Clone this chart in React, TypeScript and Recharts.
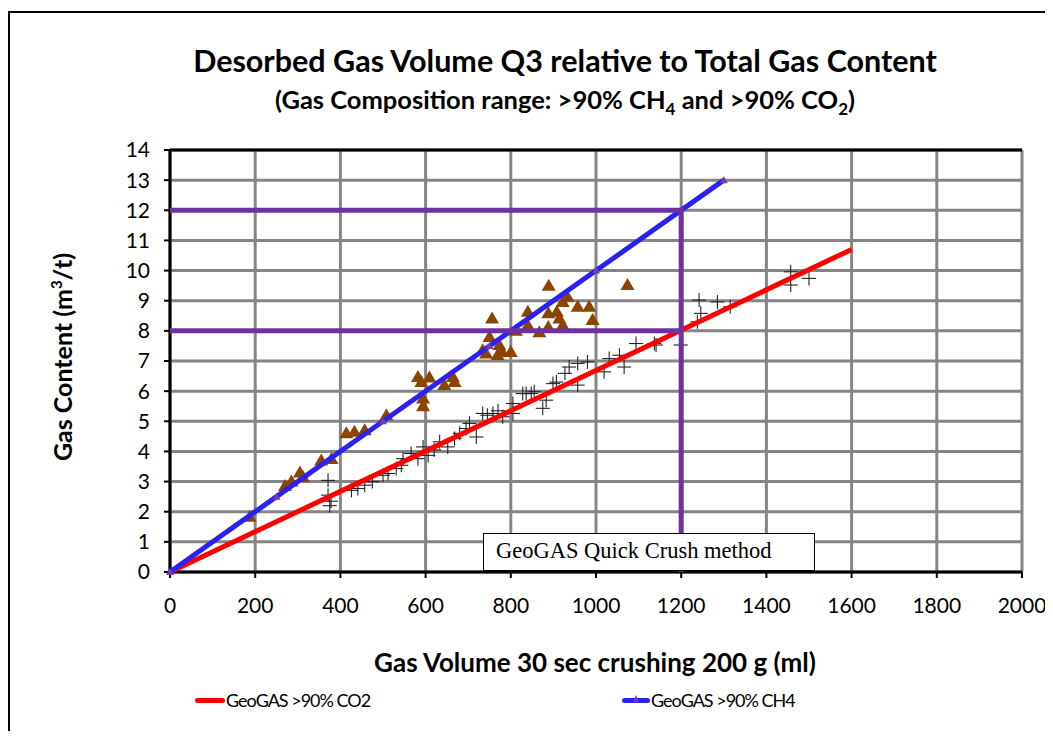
import { ScatterChart, Scatter, XAxis, YAxis, CartesianGrid, ReferenceLine } from "recharts";

// measured samples, CO2-rich (crosses) and CH4-rich (triangles)
const co2Samples = [
  { x: 371, y: 3.04 }, { x: 375, y: 2.2 }, { x: 378, y: 2.35 }, { x: 371, y: 2.55 }, { x: 426, y: 2.71 },
  { x: 441, y: 2.77 }, { x: 457, y: 2.88 }, { x: 475, y: 3.0 }, { x: 500, y: 3.21 }, { x: 512, y: 3.27 },
  { x: 531, y: 3.43 }, { x: 543, y: 3.54 }, { x: 547, y: 3.76 }, { x: 566, y: 3.93 }, { x: 582, y: 3.76 },
  { x: 594, y: 4.15 }, { x: 606, y: 3.87 }, { x: 620, y: 4.05 }, { x: 633, y: 4.32 }, { x: 652, y: 4.15 },
  { x: 668, y: 4.43 }, { x: 680, y: 4.6 }, { x: 695, y: 4.76 }, { x: 703, y: 4.93 }, { x: 719, y: 4.48 },
  { x: 734, y: 5.26 }, { x: 745, y: 5.2 }, { x: 758, y: 5.26 }, { x: 770, y: 5.35 }, { x: 781, y: 5.15 },
  { x: 805, y: 5.26 }, { x: 805, y: 5.59 }, { x: 828, y: 5.92 }, { x: 836, y: 5.92 }, { x: 848, y: 5.92 },
  { x: 855, y: 5.98 }, { x: 875, y: 5.43 }, { x: 883, y: 5.7 }, { x: 899, y: 6.25 }, { x: 907, y: 6.3 },
  { x: 927, y: 6.59 }, { x: 937, y: 6.8 }, { x: 957, y: 6.92 }, { x: 957, y: 6.2 }, { x: 980, y: 6.97 },
  { x: 1019, y: 6.64 }, { x: 1031, y: 7.08 }, { x: 1055, y: 7.19 }, { x: 1066, y: 6.8 }, { x: 1094, y: 7.58 },
  { x: 1137, y: 7.58 }, { x: 1141, y: 7.53 }, { x: 1199, y: 7.53 }, { x: 1238, y: 8.3 }, { x: 1246, y: 8.58 },
  { x: 1242, y: 9.02 }, { x: 1285, y: 8.96 }, { x: 1315, y: 8.8 }, { x: 1457, y: 9.52 }, { x: 1457, y: 9.96 },
  { x: 1500, y: 9.74 },
];

const ch4Samples = [
  { x: 187, y: 1.83 }, { x: 270, y: 2.85 }, { x: 285, y: 3.0 }, { x: 305, y: 3.3 }, { x: 312, y: 3.15 },
  { x: 355, y: 3.7 }, { x: 379, y: 3.75 }, { x: 414, y: 4.6 }, { x: 433, y: 4.65 }, { x: 457, y: 4.7 },
  { x: 508, y: 5.2 }, { x: 582, y: 6.47 }, { x: 590, y: 6.3 }, { x: 594, y: 5.5 }, { x: 594, y: 5.76 },
  { x: 609, y: 6.45 }, { x: 644, y: 6.2 }, { x: 664, y: 6.47 }, { x: 668, y: 6.3 }, { x: 734, y: 7.36 },
  { x: 742, y: 7.25 }, { x: 750, y: 7.8 }, { x: 756, y: 8.41 }, { x: 769, y: 7.2 }, { x: 773, y: 7.53 },
  { x: 780, y: 7.3 }, { x: 800, y: 7.3 }, { x: 812, y: 8.0 }, { x: 840, y: 8.63 }, { x: 840, y: 8.19 },
  { x: 867, y: 7.95 }, { x: 888, y: 8.13 }, { x: 888, y: 8.58 }, { x: 889, y: 9.5 }, { x: 908, y: 8.63 },
  { x: 914, y: 8.41 }, { x: 922, y: 8.96 }, { x: 922, y: 8.19 }, { x: 933, y: 9.13 }, { x: 957, y: 8.8 },
  { x: 984, y: 8.8 }, { x: 992, y: 8.36 }, { x: 1074, y: 9.52 },
];

// GeoGAS model lines
const co2Line = [{ x: 0, y: 0 }, { x: 1600, y: 10.7 }];
const ch4Line = [
  { x: 0, y: 0 }, { x: 250, y: 2.5 }, { x: 500, y: 5 }, { x: 750, y: 7.5 },
  { x: 1000, y: 10 }, { x: 1300, y: 13 },
];

// read-off guides
const guideUpper = [{ x: 0, y: 12 }, { x: 1200, y: 12 }, { x: 1200, y: 0 }];
const guideLower = [{ x: 0, y: 8 }, { x: 1200, y: 8 }];

const xTicks = [0, 200, 400, 600, 800, 1000, 1200, 1400, 1600, 1800, 2000];
const yTicks = [0, 1, 2, 3, 4, 5, 6, 7, 8, 9, 10, 11, 12, 13, 14];

const FONT = "Lato, 'Open Sans', sans-serif";
const PURPLE = "#7030a0";
const BLUE = "#2b22f2";
const RED = "#ff0000";
const BROWN = "#8b4500";

const Cross = (props: any) => {
  const { cx, cy } = props;
  return (
    <g stroke="#222" strokeWidth={1.1}>
      <line x1={cx - 7} y1={cy} x2={cx + 7} y2={cy} />
      <line x1={cx} y1={cy - 7} x2={cx} y2={cy + 7} />
    </g>
  );
};

const Triangle = (props: any) => {
  const { cx, cy } = props;
  return <polygon points={`${cx},${cy - 7} ${cx + 7},${cy + 5} ${cx - 7},${cy + 5}`} fill={BROWN} />;
};

const SmallMark = (props: any) => {
  const { cx, cy } = props;
  return <polygon points={`${cx},${cy - 4} ${cx + 4},${cy + 3} ${cx - 4},${cy + 3}`} fill="#7a3aa8" />;
};

const NoShape = () => <g />;

export default function App() {
  return (
    <div
      style={{
        position: "relative",
        marginTop: 3,
        width: 1045,
        height: 720,
        borderLeft: "2px solid #000",
        borderTop: "2px solid #000",
        boxSizing: "border-box",
        fontFamily: FONT,
        color: "#000",
      }}
    >
      <div style={{ position: "absolute", left: 555, top: 32, transform: "translateX(-50%)", whiteSpace: "nowrap", fontSize: 30.5, fontWeight: 700, lineHeight: 1 }}>
        Desorbed Gas Volume Q3 relative to Total Gas Content
      </div>
      <div style={{ position: "absolute", left: 555, top: 74, transform: "translateX(-50%)", whiteSpace: "nowrap", fontSize: 25.5, fontWeight: 700, lineHeight: 1 }}>
        (Gas Composition range: &gt;90% CH<sub style={{ fontSize: 17 }}>4</sub> and &gt;90% CO<sub style={{ fontSize: 17 }}>2</sub>)
      </div>

      <ScatterChart width={1043} height={640} margin={{ top: 137, right: 31, bottom: 41, left: 100 }} style={{ position: "absolute", left: 0, top: 0 }}>
        <CartesianGrid stroke="#858585" strokeWidth={3} horizontalValues={yTicks} verticalValues={xTicks} />
        <XAxis
          type="number"
          dataKey="x"
          domain={[0, 2000]}
          ticks={xTicks}
          height={40}
          interval={0}
          tick={{ fill: "#000", fontSize: 21, fontFamily: FONT }}
          tickMargin={20}
          tickSize={6}
          axisLine={{ stroke: "#000", strokeWidth: 3 }}
          tickLine={{ stroke: "#000", strokeWidth: 2 }}
        />
        <YAxis
          type="number"
          dataKey="y"
          domain={[0, 14]}
          ticks={yTicks}
          width={60}
          interval={0}
          tick={{ fill: "#000", fontSize: 21, fontFamily: FONT }}
          tickMargin={14}
          tickSize={6}
          axisLine={{ stroke: "#000", strokeWidth: 3 }}
          tickLine={{ stroke: "#000", strokeWidth: 2 }}
        />
        <ReferenceLine y={14} stroke="#000" strokeWidth={3} />
        <Scatter data={co2Samples} shape={Cross} isAnimationActive={false} />
        <Scatter data={ch4Samples} shape={Triangle} isAnimationActive={false} />
        <Scatter data={co2Line} line={{ stroke: RED, strokeWidth: 5 }} lineType="joint" shape={NoShape} isAnimationActive={false} />
        <Scatter data={ch4Line} line={{ stroke: BLUE, strokeWidth: 5 }} lineType="joint" shape={SmallMark} isAnimationActive={false} />
        <Scatter data={guideUpper} line={{ stroke: PURPLE, strokeWidth: 5 }} lineType="joint" shape={NoShape} isAnimationActive={false} />
        <Scatter data={guideLower} line={{ stroke: PURPLE, strokeWidth: 5 }} lineType="joint" shape={NoShape} isAnimationActive={false} />
      </ScatterChart>

      <div
        style={{
          position: "absolute",
          left: 473,
          top: 520,
          width: 332,
          height: 38,
          boxSizing: "border-box",
          border: "1px solid #000",
          background: "#fff",
          fontFamily: "'Liberation Serif', serif",
          fontSize: 22.5,
          lineHeight: "34px",
          paddingLeft: 12,
          whiteSpace: "nowrap",
        }}
      >
        GeoGAS Quick Crush method
      </div>

      <div style={{ position: "absolute", left: 52, top: 344, transform: "translate(-50%, -50%) rotate(-90deg)", whiteSpace: "nowrap", fontSize: 25, fontWeight: 700, lineHeight: 1 }}>
        Gas Content (m<sup style={{ fontSize: 15 }}>3</sup>/t)
      </div>
      <div style={{ position: "absolute", left: 585, top: 636, transform: "translateX(-50%)", whiteSpace: "nowrap", fontSize: 26, fontWeight: 700, lineHeight: 1 }}>
        Gas Volume 30 sec crushing 200 g (ml)
      </div>

      <div style={{ position: "absolute", left: 185, top: 678, display: "flex", alignItems: "center", fontSize: 18, letterSpacing: -1, lineHeight: 1 }}>
        <span style={{ width: 30, height: 5, borderRadius: 3, background: RED, marginRight: 1 }} />
        <span>GeoGAS &gt;90% CO2</span>
      </div>
      <div style={{ position: "absolute", left: 612, top: 678, display: "flex", alignItems: "center", fontSize: 18, letterSpacing: -1, lineHeight: 1 }}>
        <span style={{ position: "relative", width: 28, height: 5, borderRadius: 3, background: BLUE, marginRight: 1 }}>
          <span style={{ position: "absolute", left: 11, top: -3, width: 0, height: 0, borderLeft: "3px solid transparent", borderRight: "3px solid transparent", borderBottom: "7px solid #7a3aa8" }} />
        </span>
        <span>GeoGAS &gt;90% CH4</span>
      </div>
    </div>
  );
}
